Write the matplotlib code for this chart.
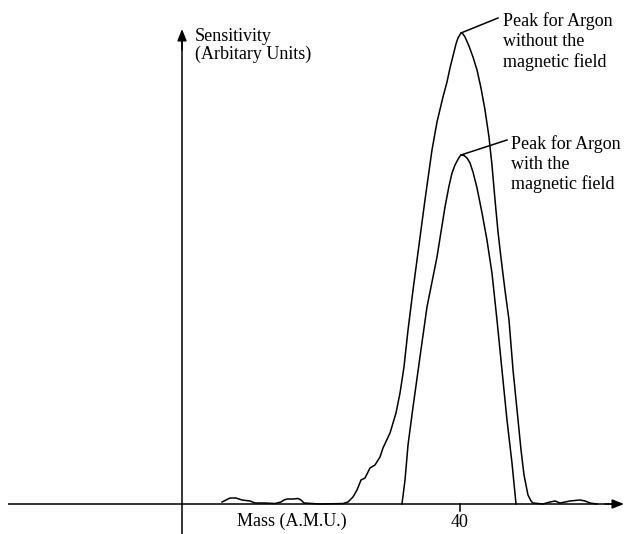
import matplotlib
matplotlib.use("Agg")
import matplotlib.pyplot as plt

# ---- data (mass in A.M.U., sensitivity in arbitrary units, peak = 100) ----
mass_without = [5.76, 6.33, 6.91, 7.77, 8.63, 9.78, 10.50, 11.94, 13.38, 14.24, 14.68,
                15.11, 15.97, 16.69, 17.12, 17.55, 19.86, 23.17, 23.88, 24.60, 25.18,
                25.76, 26.33, 27.05, 27.77, 28.49, 28.92, 29.93, 30.79, 31.37, 31.94,
                32.52, 33.24, 34.10, 34.96, 35.97, 36.69, 37.55, 38.13, 38.56, 38.99,
                39.42, 39.71, 40.14, 40.43, 40.72, 41.29, 41.87, 42.45, 43.02, 43.60,
                44.17, 44.60, 45.04, 45.47, 45.90, 46.47, 47.05, 47.63, 48.35,
                48.78, 49.21, 49.78, 50.22, 50.50, 51.94, 52.95, 53.67, 54.39, 55.11,
                55.83, 57.27, 57.99, 58.71, 59.71]
sens_without = [0.42, 0.85, 1.27, 1.27, 0.85, 0.64, 0.21, 0.21, 0.10, 0.42, 0.85,
                1.06, 1.06, 1.17, 0.85, 0.21, 0.00, 0.10, 0.42, 1.49, 2.97,
                5.10, 5.52, 7.64, 8.28, 9.98, 11.89, 15.07, 19.32, 23.57, 29.09,
                36.94, 45.44, 54.99, 64.54, 75.16, 81.10, 86.41, 89.60, 92.57, 95.12,
                97.66, 98.94, 100.0, 99.79, 99.15, 97.24, 94.90, 92.14, 88.32, 83.65,
                77.92, 71.97, 64.54, 57.75, 52.23, 45.44, 39.07, 28.45, 17.83,
                11.46, 6.16, 1.91, 0.64, 0.21, 0.00, 0.42, 0.64, 0.21, 0.42,
                0.64, 0.85, 0.64, 0.21, 0.00]

mass_with = [31.65, 32.09, 32.52, 33.24, 34.24, 35.25, 36.69, 37.84, 38.42, 38.85,
             39.28, 39.86, 40.14, 40.58, 41.01, 41.44, 41.87, 42.45, 43.17, 43.88,
             44.60, 45.32, 46.04, 46.76, 47.48, 48.06]
sens_with = [0.00, 5.10, 12.53, 20.59, 31.21, 41.83, 52.44, 63.06, 67.52, 70.28,
             71.97, 73.57, 74.10, 73.99, 73.46, 72.40, 70.49, 67.09, 61.78, 56.05,
             49.04, 39.07, 28.45, 17.83, 8.70, 0.00]

tick_values = [40]
tick_labels = ["40"]
x_label = "Mass (A.M.U.)"
y_label = ["Sensitivity", "(Arbitary Units)"]
label_without = ["Peak for Argon", "without the", "magnetic field"]
label_with = ["Peak for Argon", "with the", "magnetic field"]

# ---- layout helpers (pixel -> data) ----
W, H = 625, 534
X0, XS = 182.0, 6.95      # pixel of mass 0, pixels per A.M.U.
Y0, YS = 504.0, 4.71      # pixel of sensitivity 0, pixels per unit


def P(px, py):
    return (px - X0) / XS, (Y0 - py) / YS


plt.rcParams['font.family'] = ['Liberation Serif', 'DejaVu Serif']
FS = 13
fig = plt.figure(figsize=(W / 100, H / 100), dpi=100)
ax = fig.add_axes([0, 0, 1, 1])
ax.set_xlim(P(0, 0)[0], P(W, 0)[0])
ax.set_ylim(P(0, H)[1], P(0, 0)[1])
ax.axis('off')

lw = 1.1
arrow = dict(arrowstyle='-|>,head_length=0.7,head_width=0.28',
             color='black', lw=lw, shrinkA=0, shrinkB=0, mutation_scale=10)
# axes with arrows
ax.plot([P(8, 0)[0], P(615, 0)[0]], [0, 0], color='black', lw=lw, solid_capstyle='butt')
ax.annotate('', xy=P(624, Y0), xytext=P(605, Y0), arrowprops=arrow,
            annotation_clip=False)
ax.plot([0, 0], [P(0, H)[1], P(0, 40)[1]], color='black', lw=lw, solid_capstyle='butt')
ax.annotate('', xy=P(X0, 29), xytext=P(X0, 50), arrowprops=arrow,
            annotation_clip=False)

# tick
for tv, tl in zip(tick_values, tick_labels):
    ax.plot([tv, tv], [0, P(0, 511)[1]], color='black', lw=lw)
    ax.text(tv, P(0, 527)[1], tl, ha='center', va='baseline', fontsize=FS)

ax.text(*P(237, 526), x_label, ha='left', va='baseline', fontsize=FS)
ax.text(*P(195, 41), y_label[0], ha='left', va='baseline', fontsize=FS)
ax.text(*P(195, 59), y_label[1], ha='left', va='baseline', fontsize=FS)

# curves
ax.plot(mass_without, sens_without, color='black', lw=lw, solid_joinstyle='round')
ax.plot(mass_with, sens_with, color='black', lw=lw, solid_joinstyle='round')

# leader lines + labels
i_peak = sens_without.index(max(sens_without))
j_peak = sens_with.index(max(sens_with))
ax.plot([mass_without[i_peak], P(498, 18)[0]], [sens_without[i_peak], P(498, 18)[1]],
        color='black', lw=lw)
ax.plot([mass_with[j_peak], P(507, 140)[0]], [sens_with[j_peak], P(507, 140)[1]],
        color='black', lw=lw)
for k, line in enumerate(label_without):
    ax.text(*P(503, 26 + 20.3 * k), line, ha='left', va='baseline', fontsize=FS)
for k, line in enumerate(label_with):
    ax.text(*P(511, 149 + 20 * k), line, ha='left', va='baseline', fontsize=FS)

fig.savefig('out.png', dpi=100)
